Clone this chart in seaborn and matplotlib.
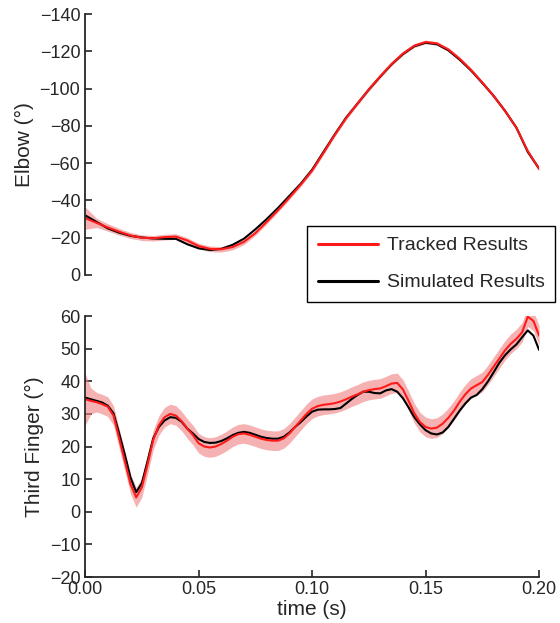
import numpy as np
import pandas as pd
import matplotlib
matplotlib.use("Agg")
import matplotlib.pyplot as plt
import seaborn as sns

# ---------------- data ----------------
t_elbow = [round(0.005 * i, 4) for i in range(41)]
elbow_simulated = [-32, -28.5, -25, -22.7, -21, -20.1, -19.6, -19.4, -19.4, -16.5,
                   -14.3, -13.4, -14, -16.2, -19.5, -24.5, -30, -36, -42.5, -49,
                   -56.5, -66, -75.5, -84.5, -92, -99.5, -106.4, -113, -118.5, -122.7,
                   -124.6, -123.8, -120.5, -115.5, -109.7, -103, -96, -88, -79, -66, -57]
elbow_tracked = [-30.5, -28, -25.5, -23.2, -21.2, -20, -19.7, -20.3, -20.6, -18.5,
                 -15.5, -14, -13.8, -15, -17.8, -22.5, -28.5, -34.8, -41.5, -48.5,
                 -56, -65.5, -75.2, -84.2, -92, -99.6, -106.6, -113.2, -118.8, -123,
                 -125, -124.2, -121, -116, -110, -103.2, -96, -88, -79, -66.5, -57]
elbow_spread = [6, 2.5, 2, 1.8, 1.6, 1.5, 1.5, 1.5, 1.5, 1.5,
                1.5, 1.5, 1.5, 1.5, 1.5, 1.2, 1.2, 1.0, 1.0, 1.0,
                1.0, 1.0, 1.0, 1.0, 1.0, 1.0, 1.0, 1.0, 1.0, 1.0,
                1.0, 1.0, 1.0, 1.0, 1.0, 1.0, 1.0, 1.0, 1.0, 1.0, 1.0]

t_finger = [round(0.0025 * i, 5) for i in range(81)]
finger_simulated = [35.0, 34.5, 34.0, 33.5, 32.5, 30.2, 24.0, 17.5, 10.5, 6.0,
                    8.8, 15.5, 22.5, 26.0, 28.0, 29.0, 28.8, 27.6, 25.5, 24.0,
                    22.3, 21.4, 21.1, 21.2, 21.7, 22.5, 23.5, 24.2, 24.5, 24.2,
                    23.6, 23.0, 22.6, 22.4, 22.4, 23.0, 24.3, 26.0, 27.5, 29.2,
                    30.7, 31.3, 31.4, 31.4, 31.5, 31.8, 33.2, 34.6, 35.8, 36.8,
                    36.8, 36.4, 36.3, 37.2, 37.6, 36.8, 34.8, 32.0, 29.0, 26.8,
                    25.0, 24.0, 23.7, 24.3, 26.0, 28.5, 31.0, 33.2, 35.0, 35.8,
                    37.6, 40.0, 42.8, 45.7, 48.0, 49.8, 51.3, 53.5, 55.6, 54.0, 49.6]
finger_tracked = [34.5, 34.0, 33.6, 33.0, 32.2, 29.5, 22.5, 15.5, 8.5, 4.4,
                  7.5, 14.5, 22.0, 26.5, 29.0, 30.0, 29.5, 27.8, 25.5, 23.5,
                  21.0, 20.0, 19.7, 20.0, 20.8, 21.8, 23.0, 23.8, 24.0, 23.6,
                  23.0, 22.4, 22.0, 21.8, 21.8, 22.5, 24.0, 26.0, 28.0, 30.0,
                  31.6, 32.4, 32.8, 33.0, 33.3, 33.8, 34.5, 35.3, 36.0, 36.8,
                  37.3, 37.6, 37.8, 38.5, 39.3, 39.5, 37.5, 34.0, 30.2, 27.5,
                  26.0, 25.5, 25.8, 27.0, 28.8, 31.0, 33.7, 36.0, 37.8, 38.8,
                  39.8, 42.0, 44.5, 47.0, 49.5, 51.5, 53.0, 55.0, 59.8, 58.5, 54.0]
finger_spread = [8, 4, 3] + [3] * 78

# ---------------- style ----------------
sns.set_style("ticks")
plt.rcParams['font.family'] = ['Liberation Sans', 'DejaVu Sans']
plt.rcParams['axes.linewidth'] = 1.3
plt.rcParams['xtick.direction'] = 'in'
plt.rcParams['ytick.direction'] = 'in'

RED = "#ff1a1a"
BAND = "#f08080"

fig = plt.figure(figsize=(5.6, 6.23), dpi=100)
ax1 = fig.add_axes([0.152, 0.5586, 0.8107, 0.4189])
ax2 = fig.add_axes([0.152, 0.0738, 0.8107, 0.4189])

# top: elbow
de = pd.DataFrame({"t": t_elbow, "sim": elbow_simulated, "trk": elbow_tracked, "sd": elbow_spread})
ax1.fill_between(de["t"], de["trk"] - de["sd"], de["trk"] + de["sd"], color=BAND, alpha=0.6, lw=0)
sns.lineplot(data=de, x="t", y="sim", ax=ax1, color="black", lw=1.5)
sns.lineplot(data=de, x="t", y="trk", ax=ax1, color=RED, lw=1.5)
ax1.set_xlim(0, 0.2)
ax1.set_ylim(0, -140)
ax1.set_yticks(list(range(0, -141, -20)))
ax1.set_xlabel("")
ax1.set_ylabel("Elbow (°)", fontsize=15)
ax1.set_xticks([])
for s in ["top", "right", "bottom"]:
    ax1.spines[s].set_visible(False)
ax1.tick_params(axis="y", labelsize=13, length=5, width=1.2)

# bottom: third finger
dfn = pd.DataFrame({"t": t_finger, "sim": finger_simulated, "trk": finger_tracked, "sd": finger_spread})
ax2.fill_between(dfn["t"], dfn["trk"] - dfn["sd"], dfn["trk"] + dfn["sd"], color=BAND, alpha=0.6, lw=0)
sns.lineplot(data=dfn, x="t", y="sim", ax=ax2, color="black", lw=1.5)
sns.lineplot(data=dfn, x="t", y="trk", ax=ax2, color=RED, lw=1.5)
ax2.set_xlim(0, 0.2)
ax2.set_ylim(-20, 60)
ax2.set_yticks(list(range(-20, 61, 10)))
ax2.set_xticks([0, 0.05, 0.10, 0.15, 0.20])
ax2.set_xticklabels(["0.00", "0.05", "0.10", "0.15", "0.20"])
ax2.set_ylabel("Third Finger (°)", fontsize=15)
ax2.set_xlabel("time (s)", fontsize=15, labelpad=1)
for s in ["top", "right"]:
    ax2.spines[s].set_visible(False)
ax2.tick_params(axis="both", labelsize=13, length=5, width=1.2)
ax2.tick_params(axis="x", pad=3)

from matplotlib.lines import Line2D
handles = [Line2D([], [], color=RED, lw=2.2), Line2D([], [], color="black", lw=2.2)]
leg = fig.legend(handles, ["Tracked Results", "Simulated Results"],
                 loc="upper left", bbox_to_anchor=(307 / 560, 1 - 226 / 623),
                 bbox_transform=fig.transFigure, fontsize=14, frameon=True,
                 fancybox=False, handlelength=3.1, handletextpad=0.45,
                 labelspacing=1.0, borderpad=0.55, borderaxespad=0)
leg.get_frame().set_edgecolor("black")
leg.get_frame().set_linewidth(1.0)
leg.get_frame().set_alpha(1)

fig.savefig("out.png", dpi=100)
